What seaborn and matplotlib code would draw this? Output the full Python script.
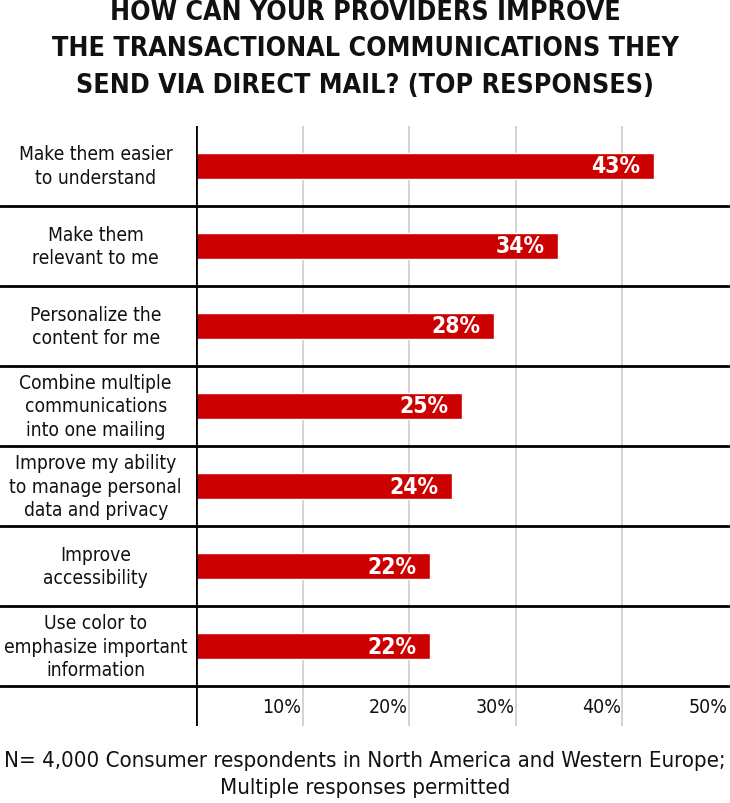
import matplotlib
matplotlib.use("Agg")
import matplotlib.pyplot as plt
import matplotlib.transforms as mtransforms
import seaborn as sns
import pandas as pd

# data
categories = [
    "Make them easier\nto understand",
    "Make them\nrelevant to me",
    "Personalize the\ncontent for me",
    "Combine multiple\ncommunications\ninto one mailing",
    "Improve my ability\nto manage personal\ndata and privacy",
    "Improve\naccessibility",
    "Use color to\nemphasize important\ninformation",
]
values = [43, 34, 28, 25, 24, 22, 22]
tick_values = [10, 20, 30, 40, 50]
tick_labels = ["10%", "20%", "30%", "40%", "50%"]

title = ("HOW CAN YOUR PROVIDERS IMPROVE\n"
         "THE TRANSACTIONAL COMMUNICATIONS THEY\n"
         "SEND VIA DIRECT MAIL? (TOP RESPONSES)")
footnote = ("N= 4,000 Consumer respondents in North America and Western Europe;\n"
            "Multiple responses permitted")

df = pd.DataFrame({"category": categories, "value": values})

sns.set_style("white")
plt.rcParams["font.family"] = ["DejaVu Sans"]
plt.rcParams["font.stretch"] = "condensed"

fig = plt.figure(figsize=(7.3, 8.04), dpi=100)
ax = fig.add_axes([0.2685, 0.0954, 0.7315, 0.747])

sns.barplot(data=df, y="category", x="value", orient="h", color="#cc0000",
            saturation=1, width=0.325, ax=ax)

ax.set_xlim(0, 50.1)
ax.set_ylim(len(categories), -0.5)

# vertical gridlines (the 50% one sits on the right edge, not drawn)
for t in tick_values[:-1]:
    ax.axvline(t, color="#c8c8c8", lw=1.1, zorder=0)

# row separators, running to the left edge of the figure
left_frac = 0.2685 / 0.7315
for i in range(len(categories)):
    ax.axhline(i + 0.5, xmin=-left_frac, xmax=1, color="black", lw=2,
               clip_on=False, zorder=3)

ax.axvline(0, color="black", lw=2, zorder=4)

for s in ax.spines.values():
    s.set_visible(False)
ax.set_xticks([])
ax.set_yticks([])
ax.set_xlabel("")
ax.set_ylabel("")

# value labels inside bars
for i, v in enumerate(values):
    ax.text(v - 1.3, i, f"{v}%", ha="right", va="center", color="white",
            fontsize=16.5, fontweight="bold", zorder=5)

# x tick labels inside the bottom strip
for t, lab in zip(tick_values, tick_labels):
    ax.text(t - 0.15, len(categories) - 0.243, lab, ha="right", va="center",
            fontsize=14, color="#111111")

# category labels
trans = mtransforms.blended_transform_factory(fig.transFigure, ax.transData)
for i, c in enumerate(categories):
    ax.text(0.131, i, c, transform=trans, ha="center", va="center",
            fontsize=13.8, linespacing=1.3, color="#111111")

fig.text(0.5, 0.9385, title, ha="center", va="center", fontsize=19.2,
         fontweight="bold", linespacing=1.52, color="#111111")
fig.text(0.5, 0.0367, footnote, ha="center", va="center", fontsize=15.9,
         linespacing=1.45, color="#111111")

fig.savefig("out.png", dpi=100)
